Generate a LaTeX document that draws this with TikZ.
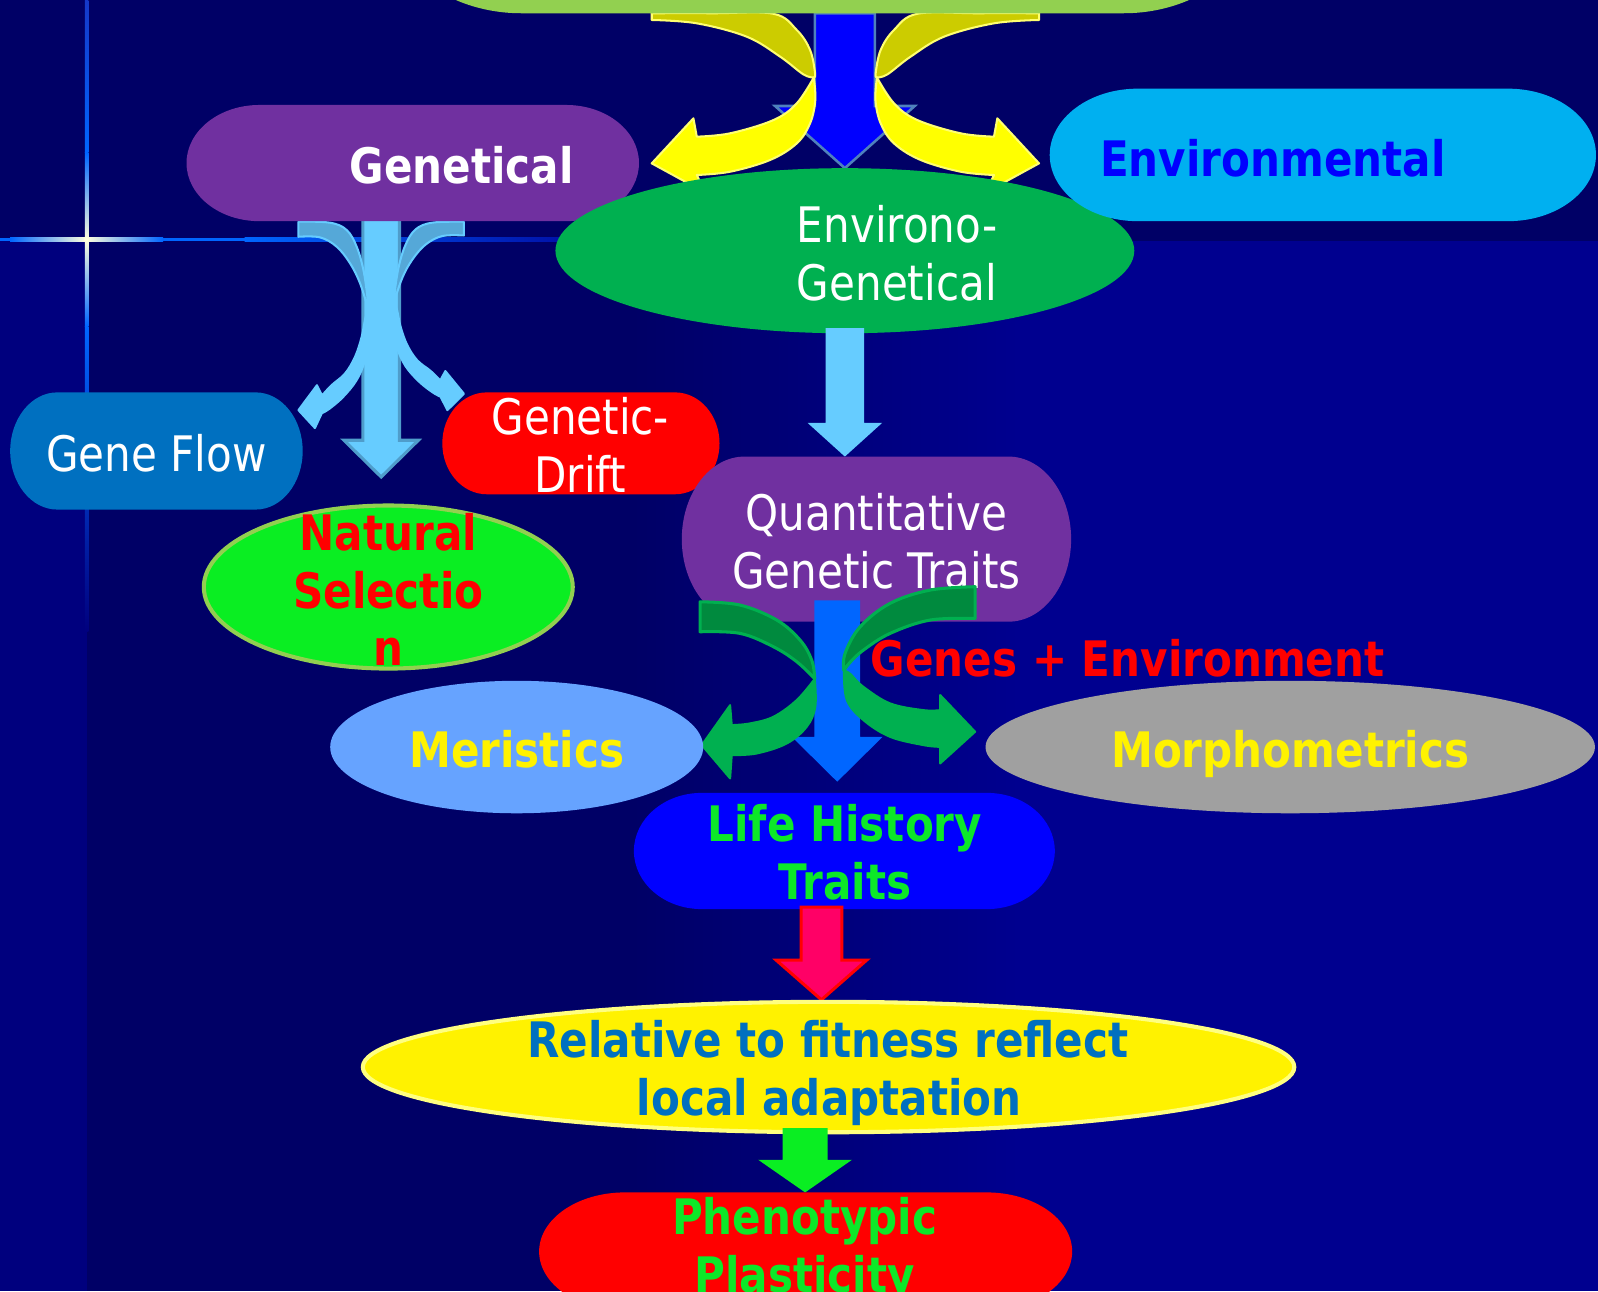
\documentclass[tikz,border=0pt]{standalone}
\usepackage{fontspec}
\setmainfont{DejaVu Sans}[FakeStretch=0.86]
\usetikzlibrary{calc}
\definecolor{bgdark}{HTML}{000066}
\definecolor{bgbright}{HTML}{00008F}
\definecolor{bgstrip}{HTML}{00007E}
\definecolor{linecol}{HTML}{0066FF}
\definecolor{vdim}{HTML}{1538C8}
\definecolor{hdim}{HTML}{0010A8}
\definecolor{glow}{HTML}{FFFFDD}
\definecolor{topgreen}{HTML}{92D050}
\definecolor{yelfront}{HTML}{FFFF00}
\definecolor{yelback}{HTML}{CCCC00}
\definecolor{yelline}{HTML}{FFFF70}
\definecolor{blueA}{HTML}{0000FF}
\definecolor{blueAline}{HTML}{4F81BD}
\definecolor{purple}{HTML}{7030A0}
\definecolor{envblue}{HTML}{00B0F0}
\definecolor{envgreen}{HTML}{00B050}
\definecolor{lblue}{HTML}{66CCFF}
\definecolor{lblueback}{HTML}{55A8D8}
\definecolor{lblueline}{HTML}{4F9DCB}
\definecolor{gfblue}{HTML}{0070C0}
\definecolor{nsgreen}{HTML}{0AEE22}
\definecolor{nsline}{HTML}{92D050}
\definecolor{gback}{HTML}{008A3E}
\definecolor{gfront}{HTML}{00B050}
\definecolor{arrblue}{HTML}{0066FF}
\definecolor{merblue}{HTML}{66A3FF}
\definecolor{morphgray}{HTML}{A0A0A0}
\definecolor{txtgreen}{HTML}{0CE828}
\definecolor{pinkarrow}{HTML}{FF0066}
\definecolor{fitline}{HTML}{FFFF80}
\definecolor{fittext}{HTML}{0070C0}
\definecolor{envtext}{HTML}{0000FF}

% terminator-shaped fill from a geometry node
\newcommand\termfill[2]{%
  \path[#2] let \p1=(#1.north west), \p2=(#1.south east),
    \n1={0.161*(\x2-\x1)}, \n2={(\y1-\y2)/2} in
    (\x1+\n1,\y1) -- (\x2-\n1,\y1)
    arc[start angle=90,end angle=-90,x radius=\n1,y radius=\n2]
    -- (\x1+\n1,\y2)
    arc[start angle=270,end angle=90,x radius=\n1,y radius=\n2] -- cycle;}
% ellipse fill from a geometry node
\newcommand\ellfill[2]{%
  \path[#2] let \p1=(#1.north west), \p2=(#1.south east),
    \n1={(\x2-\x1)/2}, \n2={(\y1-\y2)/2} in
    (#1.center) ellipse [x radius=\n1, y radius=\n2];}
% straight block arrow pointing down: style, start, tip, shaft hw, head hw, head length
\newcommand\blockdown[6]{%
  \path[#1] let \p1=(#2), \p2=(#3) in
    (\x1-#4,\y1) -- (\x1+#4,\y1) -- (\x1+#4,\y2+#6) -- (\x1+#5,\y2+#6)
    -- (\x1,\y2) -- (\x1-#5,\y2+#6) -- (\x1-#4,\y2+#6) -- cycle;}

\newcommand\yellowcurve{%
  \filldraw[fill=yelback, draw=yelline, line width=2pt, line join=round]
    (639.5,13) -- plot[smooth,tension=0.6] coordinates {(639.5,13) (700,13) (758.9,13.5) (781.8,29.4) (794.9,49.1) (799.8,72) (798.5,76)}
    -- plot[smooth,tension=0.6] coordinates {(798.5,76) (788.3,73) (765.5,55.6) (732.7,36) (683.7,22.9) (639.5,19.6)} -- cycle;
  \filldraw[fill=yelfront, draw=yelline, line width=2pt, line join=round]
    (798.5,76) -- plot[smooth,tension=0.6] coordinates {(798.5,76) (800,98.1) (794.9,121) (781.8,140.7) (755.6,157) (716.4,168.5) (683.7,171.7)}
    -- (692,189) -- (639.5,160.3) -- (680.4,116.1)
    -- plot[smooth,tension=0.6] coordinates {(683.7,134.1) (716.4,130.8) (758.9,117.8) (781.8,101.4) (798.5,76)} -- cycle;}

\newcommand\lbcurve{%
  \filldraw[fill=lblueback, draw=lblue, line width=2pt, line join=round]
    (292.8,217.5) -- plot[smooth,tension=0.6] coordinates {(292.8,217.5) (323.8,218.5) (340.2,225.7) (350,242.1) (356.6,265) (360.5,291.1) (361.5,304)}
    -- plot[smooth,tension=0.6] coordinates {(361.5,304) (353.3,278) (343.5,258.4) (330.4,242.1) (314,232.9) (292.8,232.3)} -- cycle;
  \filldraw[fill=lblue, draw=lblue, line width=2pt, line join=round]
    (361.5,304) -- plot[smooth,tension=0.6] coordinates {(361.5,304) (361.5,330.4) (358.2,353.3) (350,372.9) (336.9,389.3) (323.8,400.7) (315.7,405.6)}
    -- (309,420) -- (292.8,402.4) -- (311,378)
    -- plot[smooth,tension=0.6] coordinates {(316,388) (325.5,377.8) (338.6,366.4) (348.4,350) (354.9,330.4) (358.5,312) (361.5,304)} -- cycle;}

\begin{document}
\begin{tikzpicture}[x=1pt,y=-1pt,
  geo/.style={rectangle,inner sep=0pt,outer sep=0pt,draw=none},
  lbl/.style={inner sep=0pt,outer sep=0pt,anchor=base,font=\fontsize{48}{57}\selectfont},
  blbl/.style={lbl,font=\fontsize{48}{57}\selectfont\bfseries},
  gcurveback/.style={fill=gback,draw=gfront,line width=3pt,line join=round},
  gcurvefront/.style={fill=gfront,draw=gfront,line width=2pt,line join=round}]
\useasboundingbox (0,0) rectangle (1568,1267);
\clip (0,0) rectangle (1568,1267);

% ---------- background ----------
\fill[bgdark] (0,0) rectangle (1568,1267);
\fill[bgstrip] (0,236) rectangle (85,1267);
\shade[left color=bgdark, right color=bgbright] (620,236) rectangle (1000,1267);
\fill[bgbright] (1000,236) rectangle (1568,1267);
% sparkle lines
\fill[linecol] (0,233.3) rectangle (10,236.7);
\shade[left color=linecol, right color=glow] (10,233.3) rectangle (85,236.7);
\shade[left color=glow, right color=linecol] (85,233.3) rectangle (160,236.7);
\fill[linecol] (160,233.3) rectangle (240,236.7);
\shade[left color=linecol, right color=hdim] (240,233.3) rectangle (560,236.7);
\shade[top color=vdim, bottom color=linecol] (83.3,0) rectangle (86.7,150);
\shade[top color=linecol, bottom color=glow] (83.3,150) rectangle (86.7,235);
\shade[top color=glow, bottom color=linecol] (83.3,235) rectangle (86.7,320);
\shade[top color=linecol, bottom color=bgstrip] (83.3,320) rectangle (86.7,620);
\fill[glow] (85,235) circle (2.6);

% ---------- geometry of the shapes ----------
\node[geo,minimum width=872pt,minimum height=236pt] (top) at (807,-105) {};
\node[geo,minimum width=444pt,minimum height=114pt] (genetical) at (405,160) {};
\node[geo,minimum width=536pt,minimum height=130pt] (environmental) at (1298,152) {};
\node[geo,minimum width=568pt,minimum height=162pt] (envgen) at (829,246) {};
\node[geo,minimum width=287pt,minimum height=115pt] (geneflow) at (153.5,442.5) {};
\node[geo,minimum width=272pt,minimum height=100pt] (drift) at (570,435) {};
\node[geo,minimum width=362pt,minimum height=160pt] (natsel) at (381,576) {};
\node[geo,minimum width=382pt,minimum height=162pt] (quant) at (860,529) {};
\node[geo,minimum width=366pt,minimum height=130pt] (meristics) at (507,733) {};
\node[geo,minimum width=598pt,minimum height=130pt] (morpho) at (1266,733) {};
\node[geo,minimum width=413pt,minimum height=114pt] (lht) at (828.5,835) {};
\node[geo,minimum width=914pt,minimum height=128pt] (fitness) at (813,1047) {};
\node[geo,minimum width=523pt,minimum height=116pt] (pheno) at (790.5,1228) {};

% ---------- top: arrows out of the green box ----------
\blockdown{fill=blueA,draw=blueAline,line width=2.5pt,line join=miter}{envgen.north |- top.south}{envgen.north}{29.5}{68.5}{61}
\yellowcurve
\begin{scope}[shift={(1659,0)},xscale=-1]
  \yellowcurve
\end{scope}
\termfill{top}{fill=topgreen}

% ---------- Genetical and its three arrows ----------
\blockdown{fill=lblue,draw=lblueline,line width=3pt}{$(genetical.south)+(-31,-4)$}{$(natsel.north)+(-7,-28)$}{18}{36.5}{36}
\lbcurve
\begin{scope}[shift={(748,218)},xscale=-1,yscale=0.913,shift={(0,-218)}]
  \lbcurve
\end{scope}
\termfill{genetical}{fill=purple}
\node[blbl,white] (t-genetical) at (453,180) {Genetical};

\ellfill{envgen}{fill=envgreen}
\node[lbl,white,anchor=base west] (t-envgen1) at (782,238) {Environo-};
\node[lbl,white,anchor=base west] (t-envgen2) at (782,295) {Genetical};

\termfill{environmental}{fill=envblue}
\node[blbl,envtext] (t-environmental) at (1249,173) {Environmental};

\termfill{geneflow}{fill=gfblue}
\node[lbl,white] (t-geneflow) at (153.5,463) {Gene Flow};

\termfill{drift}{fill=red}
\node[lbl,white] (t-drift1) at (569.5,426) {Genetic-};
\node[lbl,white] (t-drift2) at (569.5,483) {Drift};

\ellfill{natsel}{fill=nsgreen,draw=nsline,line width=4pt}
\node[blbl,red] (t-ns1) at (381,540) {Natural};
\node[blbl,red] (t-ns2) at (381,597) {Selectio};
\node[blbl,red] (t-ns3) at (381,653) {n};

% ---------- Environo-Genetical -> Quantitative ----------
\blockdown{fill=lblue}{$(envgen.south)+(0,-5)$}{envgen.south |- quant.north}{19}{36.5}{33}
\termfill{quant}{fill=purple}
\node[lbl,white] (t-q1) at (860,521) {Quantitative};
\node[lbl,white] (t-q2) at (860,577) {Genetic Traits};

% ---------- arrows under Quantitative ----------
\blockdown{fill=arrblue}{$(quant.south)+(-38.5,-21)$}{$(lht.north)+(-7,-11)$}{22.5}{44.5}{44}
\filldraw[gcurveback] (686.9,590.5) -- plot[smooth,tension=0.6] coordinates {(686.9,590.5) (726.2,593.7) (762.2,608.4) (785.1,628.1) (796.5,647.7) (799.5,666)}
  -- plot[smooth,tension=0.6] coordinates {(799.5,666) (781.8,649.3) (758.9,634.6) (726.2,621.5) (686.9,619.9)} -- cycle;
\filldraw[gcurvefront] (799.5,666) -- plot[smooth,tension=0.6] coordinates {(799.5,666) (800,693.5) (791.6,713.1) (772,729.5) (742.6,739.3) (718,740.9)}
  -- (716.4,763.8) -- (688.6,731.1) -- (716.4,691.9)
  -- plot[smooth,tension=0.6] coordinates {(718,711.5) (736,709.8) (758.9,703.3) (781.8,686.9) (799.5,666)} -- cycle;
\filldraw[gcurveback] (956.8,575.7) -- plot[smooth,tension=0.6] coordinates {(956.8,575.7) (912.7,579) (873.4,592) (844,615) (829.2,641.1) (828,658)}
  -- plot[smooth,tension=0.6] coordinates {(828,658) (834,650) (847.2,637.9) (873.4,621.5) (912.7,608.4) (956.8,606.8)} -- cycle;
\filldraw[gcurvefront] (828,658) -- plot[smooth,tension=0.6] coordinates {(828,658) (830.9,686.9) (847.2,706.6) (873.4,723) (906.1,731.1) (922.5,732.8)}
  -- (922.5,749.1) -- (956.8,718) -- (922.5,682)
  -- plot[smooth,tension=0.6] coordinates {(922.5,696.8) (906.1,696.8) (873.4,690.2) (847.2,673.9) (834,661) (828,658)} -- cycle;
\node[blbl,red] (t-ge) at (1106.5,664) {Genes + Environment};

\ellfill{meristics}{fill=merblue}
\node[blbl,yellow] (t-mer) at (507,753) {Meristics};
\ellfill{morpho}{fill=morphgray}
\node[blbl,yellow] (t-mor) at (1266,753) {Morphometrics};

% ---------- lower chain ----------
\termfill{lht}{fill=blueA}
\node[blbl,txtgreen] (t-l1) at (829,826) {Life History};
\node[blbl,txtgreen] (t-l2) at (829,883) {Traits};

\blockdown{fill=pinkarrow,draw=red,line width=3pt}{$(lht.south)+(-22.5,-2)$}{$(fitness.north)+(-7,-2)$}{20}{44.5}{39}
\ellfill{fitness}{fill=yellow,draw=fitline,line width=4pt}
\node[blbl,fittext] (t-f1) at (812.5,1038) {Relative to fitness reflect};
\node[blbl,fittext] (t-f2) at (813.5,1095) {local adaptation};

\blockdown{fill=nsgreen}{$(fitness.south)+(-23,-4)$}{pheno.north}{22}{46}{32}
\termfill{pheno}{fill=red}
\node[blbl,txtgreen] (t-p1) at (789.5,1211) {Phenotypic};
\node[blbl,txtgreen] (t-p2) at (789.5,1268) {Plasticity};
\end{tikzpicture}
\end{document}
